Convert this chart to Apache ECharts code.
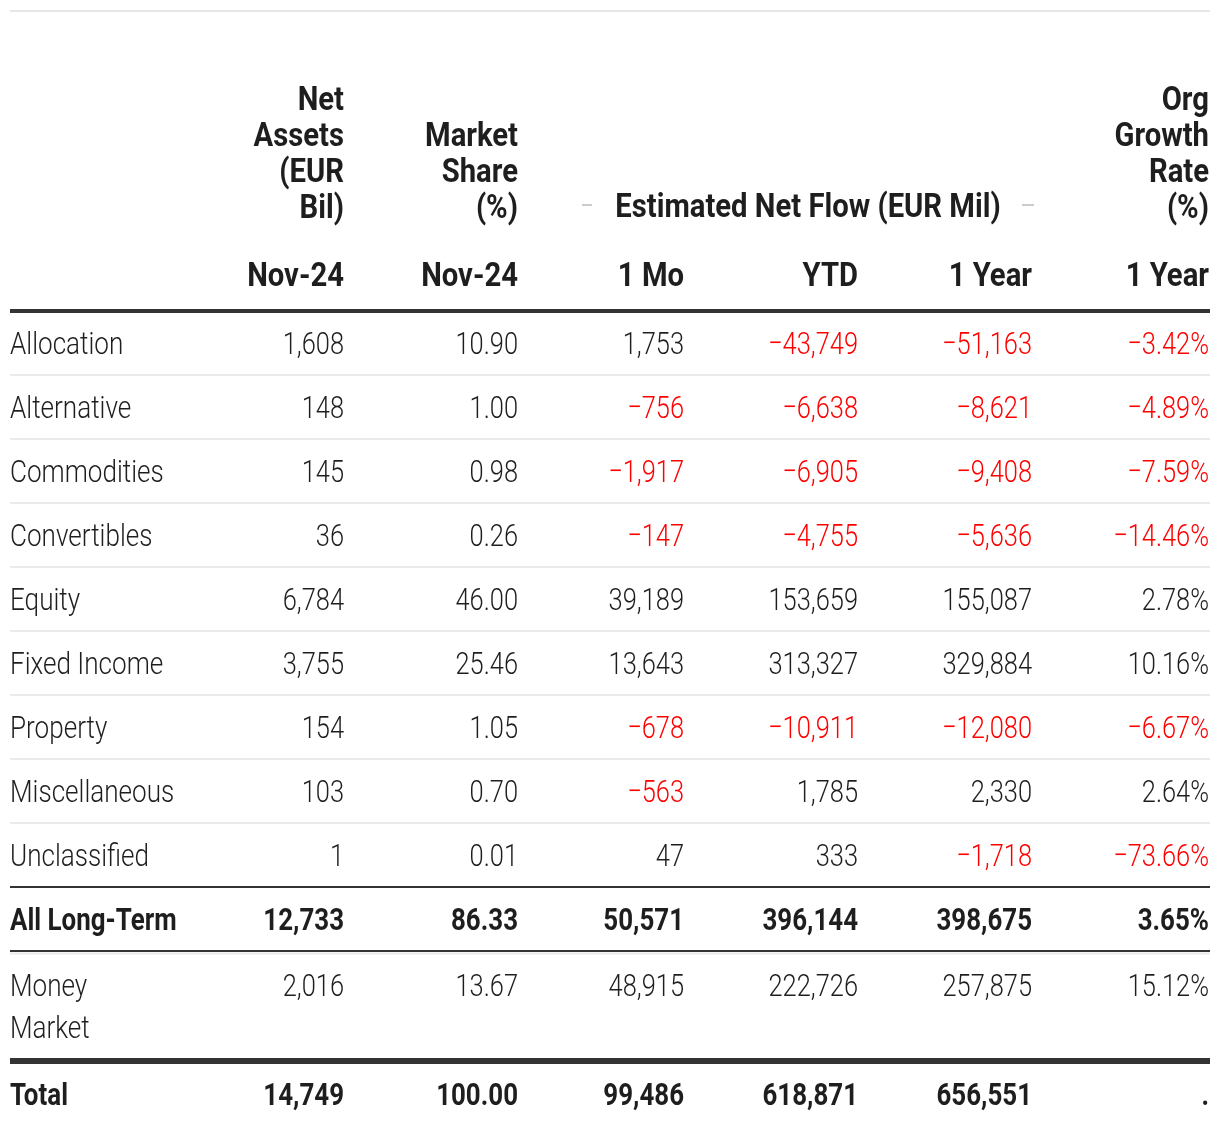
<!DOCTYPE html>
<html><head><meta charset="utf-8">
<script src="https://cdn.jsdelivr.net/npm/echarts@6/dist/echarts.min.js"></script>
<style>html,body{margin:0;padding:0;background:#fff}#c{width:1220px;height:1136px}</style>
</head><body><div id="c"></div>
<script>
// ---------------- DATA ----------------
const categories = ['Allocation','Alternative','Commodities','Convertibles','Equity','Fixed Income','Property','Miscellaneous','Unclassified','All Long-Term','Money\nMarket','Total'];
const netAssets   = [1608,148,145,36,6784,3755,154,103,1,12733,2016,14749];
const marketShare = [10.90,1.00,0.98,0.26,46.00,25.46,1.05,0.70,0.01,86.33,13.67,100.00];
const flow1Mo     = [1753,-756,-1917,-147,39189,13643,-678,-563,47,50571,48915,99486];
const flowYTD     = [-43749,-6638,-6905,-4755,153659,313327,-10911,1785,333,396144,222726,618871];
const flow1Yr     = [-51163,-8621,-9408,-5636,155087,329884,-12080,2330,-1718,398675,257875,656551];
const orgGrowth1Yr= [-3.42,-4.89,-7.59,-14.46,2.78,10.16,-6.67,2.64,-73.66,3.65,15.12,null];
const colTitles   = ['Net\nAssets\n(EUR\nBil)','Market\nShare\n(%)','','','','Org\nGrowth\nRate\n(%)'];
const colPeriods  = ['Nov-24','Nov-24','1 Mo','YTD','1 Year','1 Year'];
const spanTitle   = 'Estimated Net Flow (EUR Mil)';
const boldRows    = ['All Long-Term','Total'];

// ---------------- LAYOUT ----------------
// x axis: column index -> right edge of column; y axis: table row units
const X0 = 171, XB = 173, W = 1220, H = 1136, Y0 = 311, YB = 64;
const xMin = -X0 / XB, xMax = (W - X0) / XB;
const yMin = -Y0 / YB, yMax = (H - Y0) / YB;
const xLeft = (10 - X0) / XB, xRight = (1210 - X0) / XB;
const colNudge = [0, 1, -6, -5, -4, 0];   // px fine-tuning of column right edges
const TEXT_DY = 3;                        // px baseline fine-tuning
const rowY = [0.5,1.5,2.5,3.5,4.5,5.5,6.5,7.5,8.5,9.5,10.53,12.23];
const periodY = -0.578, titleBottomY = -1.359, spanY = -1.656;
const spanCenterX = (808 - X0) / XB;
const spanDashes = [[(582 - X0) / XB, (592 - X0) / XB], [(1022 - X0) / XB, (1034 - X0) / XB]];

const TXT = '#1e1e1e', NEG = '#ff0000', DARK = '#333333', LIGHT = '#ebebeb';

function fmtInt(v){ return (v < 0 ? '\u2212' : '') + Math.abs(v).toLocaleString('en-US'); }
function fmtDec(v){ return (v < 0 ? '\u2212' : '') + Math.abs(v).toFixed(2); }
function fmtPct(v){ return v == null ? '.' : fmtDec(v) + '%'; }

// ---- cells ----
const cells = [];
const cols = [
  {vals: netAssets, f: fmtInt},
  {vals: marketShare, f: fmtDec},
  {vals: flow1Mo, f: fmtInt},
  {vals: flowYTD, f: fmtInt},
  {vals: flow1Yr, f: fmtInt},
  {vals: orgGrowth1Yr, f: fmtPct}
];
categories.forEach((cat, r) => {
  const bold = boldRows.includes(cat);
  const multi = cat.indexOf('\n') >= 0;
  cells.push({x: xLeft, y: rowY[r], text: cat, color: TXT, kind: bold ? 'bold' : 'label', align: 'left', va: multi ? 'top' : 'middle', lh: 42, topShift: multi ? 21 : 0, nudge: 0});
  cols.forEach((c, ci) => {
    const v = c.vals[r];
    cells.push({x: ci + 1, y: rowY[r], text: c.f(v), color: (v != null && v < 0) ? NEG : TXT, kind: bold ? 'bold' : 'num', align: 'right', va: 'middle', lh: 36, topShift: 0, nudge: colNudge[ci]});
  });
});
colTitles.forEach((t, ci) => {
  if (t) cells.push({x: ci + 1, y: titleBottomY, text: t, color: TXT, kind: 'head', align: 'right', va: 'bottom', lh: 36, topShift: 0, nudge: colNudge[ci]});
});
colPeriods.forEach((t, ci) => {
  cells.push({x: ci + 1, y: periodY, text: t, color: TXT, kind: 'head', align: 'right', va: 'middle', lh: 36, topShift: 0, nudge: colNudge[ci]});
});
cells.push({x: spanCenterX, y: spanY, text: spanTitle, color: TXT, kind: 'head', align: 'center', va: 'middle', lh: 36, topShift: 0, nudge: 0});

const KIND = {
  label: {scale: 0.815, size: 32, weight: 300},
  num:   {scale: 0.795, size: 32, weight: 300},
  bold:  {scale: 0.81,  size: 32, weight: 700},
  head:  {scale: 0.86,  size: 34, weight: 700}
};

// ---- rules ----
const rules = [];
rules.push({x1: xLeft, x2: xRight, y: -4.6875, color: '#e6e6e6', w: 2});
rules.push({x1: xLeft, x2: xRight, y: 0, color: DARK, w: 4});
for (let k = 1; k <= 8; k++) rules.push({x1: xLeft, x2: xRight, y: k, color: LIGHT, w: 2});
rules.push({x1: xLeft, x2: xRight, y: 10.04, color: LIGHT, w: 2});
rules.push({x1: xLeft, x2: xRight, y: 9, color: DARK, w: 2});
rules.push({x1: xLeft, x2: xRight, y: 10, color: DARK, w: 2});
rules.push({x1: xLeft, x2: xRight, y: 11.72, color: DARK, w: 6});
spanDashes.forEach(d => rules.push({x1: d[0], x2: d[1], y: spanY, color: '#cccccc', w: 2}));

const chart = echarts.init(document.getElementById('c'), null, {renderer: 'canvas'});
chart.setOption({
  animation: false,
  backgroundColor: '#ffffff',
  grid: {left: 0, right: 0, top: 0, bottom: 0},
  xAxis: {type: 'value', min: xMin, max: xMax, show: false},
  yAxis: {type: 'value', min: yMin, max: yMax, inverse: true, show: false},
  series: [
    {
      type: 'custom', silent: true, clip: false,
      data: rules.map(d => [d.x1, d.y]),
      renderItem(params, api) {
        const d = rules[params.dataIndex];
        const p1 = api.coord([d.x1, d.y]), p2 = api.coord([d.x2, d.y]);
        return {type: 'line', shape: {x1: p1[0], y1: p1[1], x2: p2[0], y2: p2[1]}, style: {stroke: d.color, lineWidth: d.w}};
      }
    },
    {
      type: 'custom', silent: true, clip: false,
      data: cells.map(c => [c.x, c.y]),
      renderItem(params, api) {
        const c = cells[params.dataIndex];
        const k = KIND[c.kind];
        const p = api.coord([c.x, c.y]);
        return {
          type: 'text', x: p[0] + c.nudge, y: p[1] - c.topShift + TEXT_DY, scaleX: k.scale,
          style: {
            text: c.text, fill: c.color, fontFamily: 'Roboto', fontSize: k.size,
            fontWeight: k.weight, align: c.align, verticalAlign: c.va, lineHeight: c.lh
          }
        };
      }
    }
  ]
});
</script></body></html>
